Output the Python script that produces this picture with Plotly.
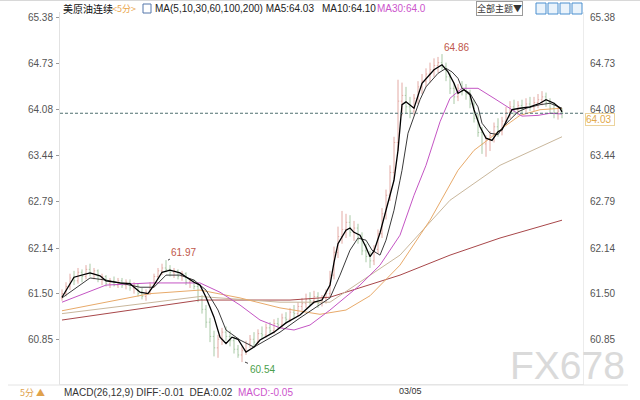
import plotly.graph_objects as go

# ---------------- data ----------------
opens = [61.44,61.50,61.60,61.72,61.68,61.80,61.74,61.84,61.78,61.82,
         61.70,61.74,61.64,61.68,61.62,61.68,61.62,61.66,61.58,61.62,
         61.50,61.46,61.52,61.62,61.74,61.82,61.86,61.84,61.80,61.82,
         61.74,61.78,61.66,61.68,61.60,61.42,61.28,61.10,60.90,60.74,
         60.86,60.96,60.90,60.84,60.72,60.64,60.70,60.80,60.86,60.82,
         60.94,60.92,61.02,60.98,61.08,61.06,61.16,61.14,61.24,61.22,
         61.32,61.36,61.42,61.40,61.46,61.36,61.44,61.50,61.76,62.08,
         62.30,62.40,62.50,62.36,62.42,62.26,62.10,62.02,61.96,62.12,
         62.34,62.62,62.88,63.20,63.62,64.20,64.28,64.12,64.06,64.24,
         64.40,64.48,64.58,64.64,64.70,64.74,64.68,64.54,64.38,64.26,
         64.38,64.34,64.30,64.16,63.96,63.76,63.60,63.66,63.72,63.84,
         63.78,63.92,64.04,64.12,64.08,64.14,64.10,64.16,64.12,64.18,
         64.22,64.26,64.18,64.10,64.04,64.06]
highs = [61.56,61.66,61.78,61.82,61.86,61.84,61.90,61.92,61.86,61.84,
         61.78,61.76,61.72,61.74,61.72,61.72,61.70,61.70,61.66,61.64,
         61.58,61.56,61.66,61.78,61.86,61.92,61.97,61.90,61.86,61.84,
         61.82,61.80,61.72,61.70,61.64,61.48,61.34,61.16,60.98,60.92,
         61.02,61.04,60.98,60.90,60.78,60.76,60.84,60.92,60.96,61.00,
         61.04,61.08,61.10,61.14,61.16,61.22,61.24,61.30,61.34,61.38,
         61.44,61.50,61.52,61.54,61.52,61.48,61.56,61.82,62.16,62.44,
         62.66,62.62,62.60,62.52,62.48,62.36,62.20,62.10,62.18,62.40,
         62.70,62.96,63.30,63.70,64.50,64.46,64.40,64.26,64.30,64.48,
         64.58,64.66,64.74,64.80,64.82,64.86,64.74,64.60,64.46,64.44,
         64.48,64.44,64.36,64.22,64.02,63.84,63.72,63.78,63.90,63.96,
         63.98,64.12,64.20,64.22,64.20,64.22,64.24,64.26,64.26,64.30,
         64.34,64.32,64.24,64.18,64.12,64.10]
lows = [61.40,61.46,61.55,61.62,61.64,61.66,61.70,61.74,61.70,61.66,
        61.62,61.60,61.58,61.60,61.58,61.58,61.56,61.54,61.50,61.46,
        61.42,61.40,61.48,61.58,61.70,61.76,61.80,61.74,61.72,61.70,
        61.68,61.62,61.58,61.56,61.38,61.22,61.02,60.82,60.62,60.60,
        60.78,60.84,60.76,60.66,60.60,60.54,60.64,60.74,60.76,60.78,
        60.86,60.88,60.94,60.94,61.00,61.02,61.08,61.10,61.16,61.18,
        61.26,61.30,61.34,61.36,61.30,61.32,61.36,61.46,61.70,62.00,
        62.20,62.28,62.30,62.24,62.20,62.04,61.94,61.86,61.90,62.06,
        62.28,62.54,62.80,63.10,63.50,64.00,64.02,63.96,64.00,64.16,
        64.30,64.40,64.46,64.54,64.60,64.64,64.48,64.30,64.16,64.20,
        64.28,64.22,64.10,63.90,63.70,63.46,63.42,63.50,63.62,63.70,
        63.72,63.86,63.96,64.00,64.00,64.02,64.04,64.06,64.06,64.10,
        64.14,64.12,64.02,63.96,63.94,63.96]
closes = [61.50,61.60,61.72,61.68,61.80,61.74,61.84,61.78,61.82,61.70,
          61.74,61.64,61.68,61.62,61.68,61.62,61.66,61.58,61.62,61.50,
          61.46,61.52,61.62,61.74,61.82,61.86,61.84,61.80,61.82,61.74,
          61.78,61.66,61.68,61.60,61.42,61.28,61.10,60.90,60.74,60.86,
          60.96,60.90,60.84,60.72,60.64,60.70,60.80,60.86,60.82,60.94,
          60.92,61.02,60.98,61.08,61.06,61.16,61.14,61.24,61.22,61.32,
          61.36,61.42,61.40,61.46,61.36,61.44,61.50,61.76,62.08,62.30,
          62.40,62.50,62.36,62.42,62.26,62.10,62.02,61.96,62.12,62.34,
          62.62,62.88,63.20,63.62,64.20,64.28,64.12,64.06,64.24,64.40,
          64.48,64.58,64.64,64.70,64.74,64.68,64.54,64.38,64.26,64.38,
          64.34,64.30,64.16,63.96,63.76,63.60,63.66,63.72,63.84,63.78,
          63.92,64.04,64.12,64.08,64.14,64.10,64.16,64.12,64.18,64.22,
          64.26,64.18,64.10,64.04,64.06,64.03]
bar_idx = list(range(len(closes)))

ma5_idx = [0,3,7,9.5,11,14.5,17,19.5,21.5,23,25,27,29.5,33,34.5,36,38,39.5,41,42.5,44,46,48,49.5,53,56,59.5,63,65,67,68,69,71,72,73,74.5,76,77,78,79.5,81,83,84,85,86,88,90,93,95,96.5,98,99,100.5,102,103,104.5,106,107.5,109,110,111,112.5,114.5,117,119.5,121,123,124.5,125]
ma5_val = [61.45,61.73,61.79,61.75,61.68,61.65,61.64,61.52,61.50,61.62,61.80,61.83,61.79,61.66,61.62,61.45,61.17,60.89,60.80,60.89,60.86,60.68,60.75,60.85,60.96,61.09,61.20,61.38,61.41,61.62,61.94,62.20,62.39,62.42,62.36,62.32,62.15,62.02,62.10,62.35,62.67,63.09,63.51,64.15,64.19,64.10,64.45,64.64,64.71,64.61,64.45,64.31,64.36,64.29,64.08,63.84,63.68,63.65,63.77,63.80,63.91,64.08,64.10,64.12,64.17,64.22,64.17,64.10,64.05]

ma10_idx = [0,7,11,19.5,23,26,29.5,33,36,39,41,44.5,48,51,54.5,59.5,64.5,67,69.5,72,74,76,77.5,79.5,81,83,84.5,85,86.5,88,89.5,91,94,96,97.5,99,100,102,104,105,107,109,110,112,114,116,119.5,122,124.5,125]
ma10_val = [61.44,61.72,61.69,61.59,61.59,61.76,61.76,61.69,61.55,61.27,60.99,60.85,60.75,60.85,60.96,61.16,61.34,61.44,61.76,62.11,62.28,62.25,62.11,62.04,62.25,62.67,63.09,63.23,63.75,64.00,64.22,64.40,64.59,64.66,64.61,64.52,64.38,64.31,64.12,63.89,63.75,63.73,63.82,63.94,64.05,64.10,64.15,64.17,64.12,64.10]

ma30_idx = [0,11,22,34.5,39.5,44.5,49.5,54.5,58,62,67,74.5,79.5,84.5,88,91,94.5,97,100,104,108,112,115,119,122,125]
ma30_val = [61.38,61.62,61.65,61.65,61.52,61.34,61.13,61.02,60.99,61.06,61.27,61.62,61.90,62.32,62.88,63.30,63.91,64.24,64.38,64.38,64.24,64.10,63.99,64.00,64.03,64.02]

ma60_idx = [0,22,34.5,44.5,54.5,64.5,71,77,84.5,92,99,103,107,111,114.5,119.5,125]
ma60_val = [61.26,61.50,61.55,61.44,61.30,61.21,61.27,61.47,61.90,62.53,63.23,63.51,63.68,63.86,64.00,64.08,64.10]

ma100_idx = [0,34.5,54.5,67,84.5,97,109.5,119.5,125]
ma100_val = [61.22,61.46,61.38,61.38,62.04,62.81,63.30,63.56,63.70]

ma200_idx = [0,34.5,57,67,84.5,97,109.5,125]
ma200_val = [61.13,61.41,61.41,61.45,61.76,62.04,62.28,62.53]

tick_vals = [60.85, 61.50, 62.14, 62.79, 63.44, 64.08, 64.73, 65.38]
tick_text = ["60.85", "61.50", "62.14", "62.79", "63.44", "64.08", "64.73", "65.38"]
last_price = 64.03
date_tick_idx = 87
date_tick_label = "03/05"
high_idx, high_val = 95, 64.86
peak_idx, peak_val = 26.5, 61.97
low_idx, low_val = 45.75, 60.54

# ---------------- figure ----------------
W, H = 640, 400
L, R, T, B = 60, 57, 12, 16
PW, PH = W - L - R, H - T - B
def px(x):
    return (x - L) / PW
def py(y):
    return (H - B - y) / PH

FONT = "Liberation Sans, Arial, Noto Sans CJK SC, sans-serif"
CJK = "Noto Sans CJK SC, Liberation Sans, sans-serif"

fig = go.Figure()
fig.add_trace(go.Ohlc(x=bar_idx, open=opens, high=highs, low=lows, close=closes,
                      increasing=dict(line=dict(color="#e3aaa4", width=1)),
                      decreasing=dict(line=dict(color="#a9c9a6", width=1)),
                      tickwidth=0.3, showlegend=False, hoverinfo="skip"))

for ix, vals, col, w in [
    (ma200_idx, ma200_val, "#a8474a", 1.0),
    (ma100_idx, ma100_val, "#c9b79c", 1.0),
    (ma60_idx, ma60_val, "#e8aa6a", 1.0),
    (ma30_idx, ma30_val, "#c455c4", 1.0),
    (ma10_idx, ma10_val, "#3a3a3a", 1.0),
    (ma5_idx, ma5_val, "#000000", 1.3),
]:
    fig.add_trace(go.Scatter(x=ix, y=vals, mode="lines", line=dict(color=col, width=w),
                             showlegend=False, hoverinfo="skip"))

# invisible trace for right axis
fig.add_trace(go.Scatter(x=[0], y=[last_price], yaxis="y2", mode="markers",
                         marker=dict(opacity=0), showlegend=False, hoverinfo="skip"))

yr = [65.38 - (H - B - 17) / 71.3, 65.38 + (17 - T) / 71.3]

fig.update_layout(
    width=W, height=H, margin=dict(l=L, r=R, t=T, b=B),
    paper_bgcolor="white", plot_bgcolor="white",
    font=dict(family=FONT, size=10, color="#555"),
    xaxis=dict(range=[-0.5, 130.25], showgrid=False, zeroline=False, showticklabels=False,
               showline=True, linecolor="#e6e6e6", rangeslider=dict(visible=False), fixedrange=True),
    yaxis=dict(range=yr, tickvals=tick_vals, ticktext=tick_text, showgrid=False, zeroline=False,
               showline=True, linecolor="#e2e2e2", ticks="outside", ticklen=3, tickcolor="#999",
               tickfont=dict(size=10, color="#555"), ticklabelstandoff=1),
    yaxis2=dict(range=yr, overlaying="y", side="right", tickvals=tick_vals, ticktext=tick_text,
                showgrid=False, zeroline=False, showline=True, linecolor="#ececec", ticks="",
                tickfont=dict(size=10, color="#555"), ticklabelstandoff=4),
)

# dashed last price line
fig.add_shape(type="line", xref="paper", yref="y", x0=0, x1=1, y0=last_price, y1=last_price,
              line=dict(color="#4f6f6f", width=1, dash="3px,2px"))
# bottom separator
fig.add_shape(type="line", xref="paper", yref="paper", x0=px(8), x1=px(628), y0=py(385), y1=py(385),
              line=dict(color="#e4e4e4", width=1))
fig.add_shape(type="line", xref="paper", yref="paper", x0=px(0), x1=px(640), y0=py(0.5), y1=py(0.5),
              line=dict(color="#d8d8d8", width=1))

ann = []
# price box on the right
ann.append(dict(xref="paper", yref="y", x=1, y=last_price, xanchor="left", yanchor="top", xshift=2,
                text="64.03 ", showarrow=False, font=dict(size=10, color="#e2a84a"),
                bordercolor="#ecd39c", borderwidth=1, borderpad=0, bgcolor="white"))
# extrema labels
ann.append(dict(x=high_idx, y=high_val, text="64.86", showarrow=True, arrowhead=0, arrowwidth=1,
                arrowcolor="#444", ax=14, ay=-7, font=dict(size=10, color="#c0574a")))
ann.append(dict(x=peak_idx, y=peak_val, text="61.97", showarrow=True, arrowhead=0, arrowwidth=1,
                arrowcolor="#444", ax=15, ay=-8, font=dict(size=10, color="#c0574a")))
ann.append(dict(x=low_idx, y=low_val, text="60.54", showarrow=True, arrowhead=0, arrowwidth=1,
                arrowcolor="#444", ax=17, ay=7, font=dict(size=10, color="#4ba04b")))
# header
hy = py(8)
ann.append(dict(xref="paper", yref="paper", x=px(61), y=hy, xanchor="left", yanchor="middle",
                text="美原油连续", showarrow=False, font=dict(family=CJK, size=10, color="#111")))
ann.append(dict(xref="paper", yref="paper", x=px(110), y=hy, xanchor="left", yanchor="middle",
                text="&lt;5分&gt;", showarrow=False, font=dict(family=CJK, size=9, color="#e9a64c")))
ann.append(dict(xref="paper", yref="paper", x=px(153), y=hy, xanchor="left", yanchor="middle",
                text="MA(5,10,30,60,100,200) MA5:64.03", showarrow=False, font=dict(size=10, color="#222")))
ann.append(dict(xref="paper", yref="paper", x=px(320), y=hy, xanchor="left", yanchor="middle",
                text="MA10:64.10", showarrow=False, font=dict(size=10, color="#222")))
ann.append(dict(xref="paper", yref="paper", x=px(375), y=hy, xanchor="left", yanchor="middle",
                text="MA30:64.0", showarrow=False, font=dict(size=10, color="#cc55cc")))
ann.append(dict(xref="paper", yref="paper", x=px(476), y=hy, xanchor="left", yanchor="middle",
                text="全部主题▼", showarrow=False, font=dict(family=CJK, size=9, color="#333"),
                bordercolor="#9a9a9a", borderwidth=1, borderpad=0))
# footer
fy = py(392)
ann.append(dict(xref="paper", yref="paper", x=px(18), y=fy, xanchor="left", yanchor="middle",
                text="5分 ▲", showarrow=False, font=dict(family=CJK, size=9, color="#e0a24c")))
ann.append(dict(xref="paper", yref="paper", x=px(62), y=fy, xanchor="left", yanchor="middle",
                text="MACD(26,12,9) DIFF:-0.01  DEA:0.02  <span style='color:#cc55cc'>MACD:-0.05</span>",
                showarrow=False, font=dict(size=10, color="#333")))
ann.append(dict(x=date_tick_idx, yref="paper", y=py(391), xanchor="center", yanchor="middle",
                text=date_tick_label, showarrow=False, font=dict(size=9, color="#333")))
# watermark
ann.append(dict(xref="paper", yref="paper", x=px(567), y=py(365), xanchor="center", yanchor="middle",
                text="FX678", showarrow=False, font=dict(size=39, color="#dadada")))
fig.update_layout(annotations=ann)

# header icons
fig.add_shape(type="rect", xref="paper", yref="paper", x0=px(143), x1=px(151), y0=py(13), y1=py(4),
              line=dict(color="#5577aa", width=1))
for x0 in [536, 548, 560, 572]:
    fig.add_shape(type="rect", xref="paper", yref="paper", x0=px(x0), x1=px(x0 + 10), y0=py(14), y1=py(3),
                  line=dict(color="#4b8fcf", width=1), fillcolor="#eaf3fb")

fig.write_html("out.html", config={"displayModeBar": False},
               post_script="document.body.style.margin='0';document.body.style.padding='0';")
